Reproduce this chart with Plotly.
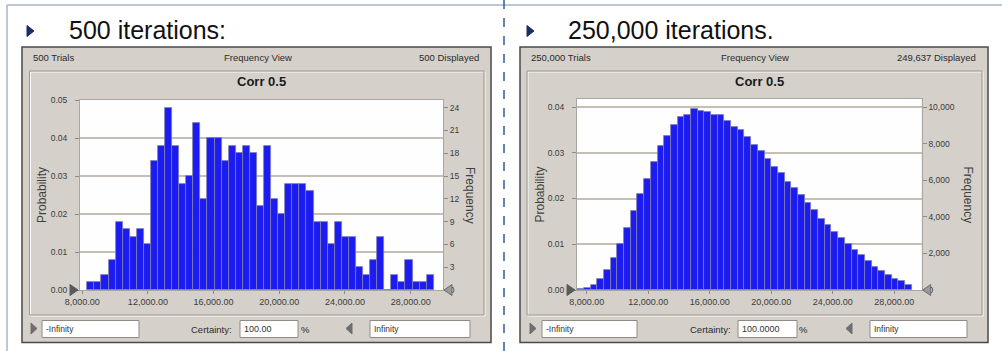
import plotly.graph_objects as go

# ---- histogram data -------------------------------------------------------
# 500-trial run: counts per bin
trials_small = 500
counts_small = [1, 1, 2, 4, 9, 8, 7, 8, 6, 17, 19, 24, 19, 14, 15, 22, 12, 20, 20,
                17, 19, 18, 19, 18, 11, 19, 12, 10, 14, 14, 14, 13, 9, 9, 6, 9, 7,
                7, 3, 2, 4, 7, 0, 2, 1, 4, 1, 1, 2]
bin_start_small = 8310
bin_width_small = 430.5

# 250,000-trial run: counts per bin
trials_large = 250000
counts_large = [50, 125, 280, 600, 1120, 1770, 2500, 3400, 4330, 5260, 6080, 6980,
                7870, 8440, 8990, 9460, 9560, 9880, 9760, 9740, 9590, 9540, 9220,
                8900, 8770, 8360, 7920, 7570, 7170, 6710, 6400, 5890, 5560, 5190,
                4770, 4360, 3880, 3550, 3180, 2820, 2500, 2190, 1920, 1560, 1280,
                1040, 820, 590, 470, 270]
bin_start_large = 7389
bin_width_large = 435

x_ticks = [8000, 12000, 16000, 20000, 24000, 28000]
freq_ticks_small = [0, 3, 6, 9, 12, 15, 18, 21, 24]
freq_ticks_large = [0, 2000, 4000, 6000, 8000, 10000]

# ---- page geometry helpers (pixels -> paper fractions) ---------------------
W, H = 1002, 351
FONT = "Liberation Sans, Arial, sans-serif"


def px(x):
    return x / W


def py(y):
    return 1 - y / H


def rect(x0, y0, x1, y1, fill=None, line=None, lw=1, layer="below"):
    return dict(type="rect", xref="paper", yref="paper",
                x0=px(x0), x1=px(x1), y0=py(y1), y1=py(y0),
                fillcolor=fill if fill else "rgba(0,0,0,0)",
                line=dict(color=line if line else "rgba(0,0,0,0)", width=lw if line else 0),
                layer=layer)


def seg(x0, y0, x1, y1, color, lw=1, dash="solid", layer="below"):
    return dict(type="line", xref="paper", yref="paper",
                x0=px(x0), x1=px(x1), y0=py(y0), y1=py(y1),
                line=dict(color=color, width=lw, dash=dash), layer=layer)


def tri(pts, fill, line=None, layer="above"):
    path = "M " + " L ".join(f"{px(a)},{py(b)}" for a, b in pts) + " Z"
    return dict(type="path", xref="paper", yref="paper", path=path,
                fillcolor=fill, line=dict(color=line if line else fill, width=1),
                layer=layer)


def label(x, y, text, size=9.5, color="#2a2a2a", anchor="left", bold=False, angle=0):
    if bold:
        text = f"<b>{text}</b>"
    return dict(xref="paper", yref="paper", x=px(x), y=py(y), text=text,
                showarrow=False, xanchor=anchor, yanchor="middle", textangle=angle,
                font=dict(family=FONT, size=size, color=color))


fig = go.Figure()

BAR = "#1c1cf2"
BAR_EDGE = "#7f7fae"


def add_hist(counts, start, width, trials, xa, yprob, yfreq):
    centers = [start + (i + 0.5) * width for i in range(len(counts))]
    fig.add_trace(go.Bar(x=centers, y=counts, width=width, xaxis=xa, yaxis=yfreq,
                         marker=dict(color=BAR, line=dict(color=BAR_EDGE, width=0.8)),
                         showlegend=False, hoverinfo="x+y"))
    # probability axis shares the plot; an empty trace keeps it attached
    fig.add_trace(go.Scatter(x=[None], y=[None], xaxis=xa, yaxis=yprob,
                             showlegend=False, hoverinfo="skip"))


add_hist(counts_small, bin_start_small, bin_width_small, trials_small, "x", "y", "y2")
add_hist(counts_large, bin_start_large, bin_width_large, trials_large, "x2", "y3", "y4")

# plot-area pixel boxes (freq_title = x of the rotated "Frequency" label)
L = dict(x0=80, x1=443, top=100, bot=290, freq_title=470)
R = dict(x0=577, x1=921.7, top=99, bot=290, freq_title=968)

GRID = "#c5beb5"
AXL = "#a9a6a0"
TICKF = dict(family=FONT, size=9, color="#3a3a3a")

common_x = dict(tickvals=x_ticks, tickformat=",.2f", ticks="outside", ticklen=3,
                tickcolor="#8a8a8a", showline=True, linecolor=AXL, mirror=True,
                showgrid=False, zeroline=False, tickfont=TICKF, fixedrange=True,
                automargin=False)
common_prob = dict(ticks="outside", ticklen=4, tickcolor="#8a8a8a", showline=True,
                   linecolor=AXL, mirror=True, showgrid=True, gridcolor=GRID,
                   gridwidth=2, zeroline=False, tickfont=dict(family=FONT, size=8.5, color="#3a3a3a"),
                   tickformat=".2f", dtick=0.01, ticklabelstandoff=6, automargin=False)
common_freq = dict(side="right", ticks="outside", ticklen=4, tickcolor="#8a8a8a",
                   showgrid=False, zeroline=False, showline=False, automargin=False,
                   tickfont=dict(family=FONT, size=8.5, color="#3a3a3a"))

top_small = 0.05
top_large = 0.04175

fig.update_layout(
    width=W, height=H, margin=dict(l=0, r=0, t=0, b=0, autoexpand=False),
    paper_bgcolor="white", plot_bgcolor="white", bargap=0, showlegend=False,
    xaxis=dict(domain=[px(L["x0"]), px(L["x1"])], range=[7866, 29970], anchor="y", **common_x),
    yaxis=dict(domain=[py(L["bot"]), py(L["top"])], range=[0, top_small], anchor="x", **common_prob),
    yaxis2=dict(overlaying="y", anchor="x", range=[0, top_small * trials_small],
                tickvals=freq_ticks_small, **common_freq),
    xaxis2=dict(domain=[px(R["x0"]), px(R["x1"])], range=[7370, 29790], anchor="y3", **common_x),
    yaxis3=dict(domain=[py(R["bot"]), py(R["top"])], range=[0, top_large], anchor="x2", **common_prob),
    yaxis4=dict(overlaying="y3", anchor="x2", range=[0, top_large * trials_large],
                tickvals=freq_ticks_large, tickformat=",", **common_freq),
)

shapes = []
# slide frame lines
shapes.append(seg(7, 5, 1002, 5, "#a3b5cf", 1.5))
shapes.append(seg(7, 5, 7, 351, "#a3b5cf", 1.5))
shapes.append(seg(504, 0, 504, 351, "#2f5f9c", 1.5, dash="dash"))

# bullets
shapes.append(tri([(27, 25.5), (34, 31), (27, 36.5)], "#1b2d66", layer="below"))
shapes.append(tri([(527, 25.5), (534, 31), (527, 36.5)], "#1b2d66", layer="below"))

annots = []
annots.append(label(67, 30, "500 iterations:", size=25, color="#111111"))
annots.append(label(566, 30, "250,000 iterations.", size=25, color="#111111"))

panels = [
    dict(px0=22, px1=491, fx0=29.5, fx1=484, plot=L, trials="500 Trials",
         shown="500 Displayed", cert="100.00", b1=(42, 139), b2=(240, 298), b3=(370, 470),
         tl=31, tr=346, cert_x=234, pct=305),
    dict(px0=520, px1=988, fx0=527, fx1=982, plot=R, trials="250,000 Trials",
         shown="249,637 Displayed", cert="100.0000", b1=(542, 637), b2=(738, 797), b3=(870, 967),
         tl=530, tr=846, cert_x=733, pct=803),
]

for p in panels:
    # window body
    shapes.append(rect(p["px0"], 47, p["px1"], 342.5, fill="#d5d1ca", line="#4a4a4a", lw=1.5))
    # sunken chart frame
    shapes.append(rect(p["fx0"] + 1, 72, p["fx1"] + 1, 316, line="#fbfbfb", lw=1))
    shapes.append(rect(p["fx0"], 71, p["fx1"], 315, line="#9b978f", lw=1))
    # white plotting field
    pl = p["plot"]
    shapes.append(rect(pl["x0"], pl["top"], pl["x1"], pl["bot"], fill="#fefefe"))
    # input boxes
    for bx in (p["b1"], p["b2"], p["b3"]):
        shapes.append(rect(bx[0], 320.5, bx[1], 337.5, fill="white", line="#8f8b84", lw=1))
    # grabber arrows beside the input boxes
    shapes.append(tri([(p["tl"], 323), (p["tl"] + 6, 328.5), (p["tl"], 334)], "#6e6e6e"))
    shapes.append(tri([(p["tr"] + 6, 323), (p["tr"], 328.5), (p["tr"] + 6, 334)], "#6e6e6e"))
    # grabbers at both ends of the baseline
    shapes.append(tri([(pl["x0"] - 10, 284.5), (pl["x0"] - 2, 290), (pl["x0"] - 10, 295.5)],
                      "#5a5a5a"))
    shapes.append(tri([(pl["x1"] + 9, 284.5), (pl["x1"] + 1, 290), (pl["x1"] + 9, 295.5)],
                      "#9a9a9a", line="#6a6a6a"))

    cx = (p["px0"] + p["px1"]) / 2
    annots.append(label(p["px0"] + 9, 58, p["trials"], size=9.5))
    annots.append(label(cx + 1, 58, "Frequency View", size=9.5, anchor="center"))
    annots.append(label(p["px1"] - 10, 58, p["shown"], size=9.5, anchor="right"))
    annots.append(label(cx + 5, 81, "Corr 0.5", size=13, color="#1a1a1a", anchor="center", bold=True))
    annots.append(label(p["b1"][0] + 2, 329, "-Infinity", size=8.5, color="#333333"))
    annots.append(label(p["b2"][0] + 2, 329, p["cert"], size=9, color="#333333"))
    annots.append(label(p["b3"][0] + 2, 329, "Infinity", size=8.5, color="#333333"))
    annots.append(label(p["cert_x"], 329, "Certainty:", size=9.5, anchor="right"))
    annots.append(label(p["pct"], 329, "%", size=9.5, anchor="center"))
    annots.append(label(pl["x0"] - 38, (pl["top"] + pl["bot"]) / 2, "Probability",
                        size=12, color="#404040", anchor="center", angle=-90))
    annots.append(label(pl["freq_title"], (pl["top"] + pl["bot"]) / 2, "Frequency",
                        size=12, color="#404040", anchor="center", angle=90))

fig.update_layout(shapes=shapes, annotations=annots)

fig.write_html("out.html")
